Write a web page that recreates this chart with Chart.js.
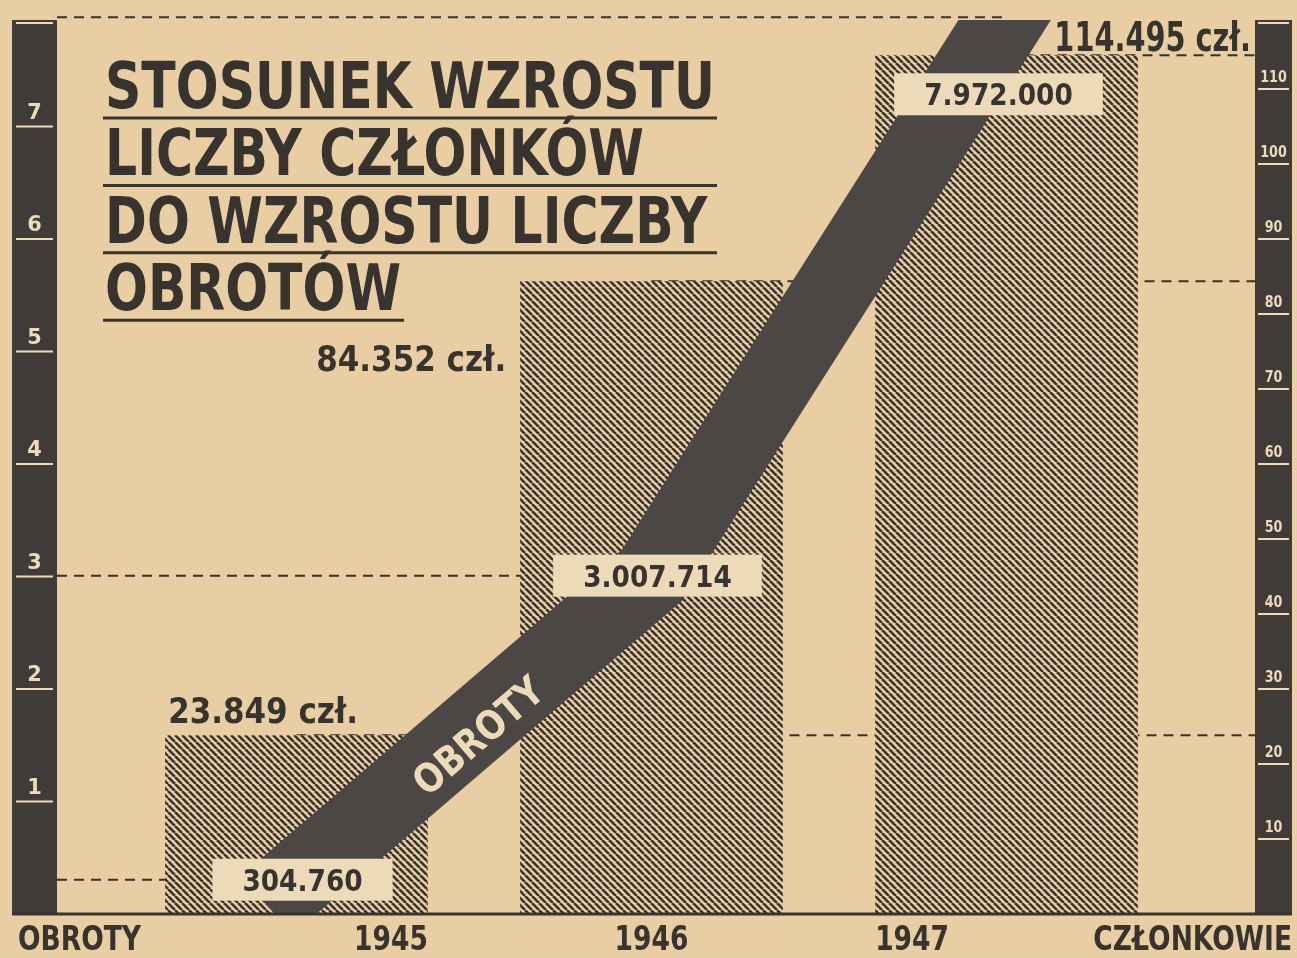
<!DOCTYPE html>
<html>
<head>
<meta charset="utf-8">
<title>Stosunek wzrostu liczby członków do wzrostu liczby obrotów</title>
<script src="https://cdn.jsdelivr.net/npm/chart.js@4"></script>
<style>
  html, body { margin: 0; padding: 0; background: #e8cea2; }
  canvas { display: block; }
</style>
</head>
<body>
<canvas id="chart" width="1297" height="958"></canvas>
<script>
const years = ['1945', '1946', '1947'];
const members = [23849, 84352, 114495];
const memberLabels = ['23.849 czł.', '84.352 czł.', '114.495 czł.'];
const turnover = [304760, 3007714, 7972000];
const turnoverLabels = ['304.760', '3.007.714', '7.972.000'];
const turnoverTicks = [1, 2, 3, 4, 5, 6, 7];      // millions
const memberTicks = [10, 20, 30, 40, 50, 60, 70, 80, 90, 100, 110]; // thousands
const titleLines = ['STOSUNEK WZROSTU', 'LICZBY CZŁONKÓW', 'DO WZROSTU LICZBY', 'OBROTÓW'];

const ink = '#37332f';
const paper = '#e8cea2';
const paperLight = '#eddab8';
const bandColor = '#4a4744';
const stripColor = '#3e3b38';
const FONT = '"DejaVu Sans", "Liberation Sans", sans-serif';

// side strips (decoration outside the plot area)
const STRIP_L = [12, 57];
const STRIP_R = [1255, 1292];

function makeHatch(ctx) {
    const s = 7;
    const c = document.createElement('canvas');
    c.width = s;
    c.height = s;
    const g = c.getContext('2d');
    g.fillStyle = paper;
    g.fillRect(0, 0, s, s);
    g.strokeStyle = ink;
    g.lineWidth = 2.6;
    g.beginPath();
    for (let i = -s; i <= s; i += s) {
        g.moveTo(i, 0);
        g.lineTo(i + s, s);
    }
    g.stroke();
    return ctx.createPattern(c, 'repeat');
}

// draws text squeezed horizontally by sx
function squeezeText(ctx, text, x, y, font, align, sx, color) {
    ctx.save();
    ctx.font = font;
    ctx.fillStyle = color;
    ctx.textBaseline = 'alphabetic';
    ctx.textAlign = 'left';
    const w = ctx.measureText(text).width * sx;
    let left = x;
    if (align === 'center') left = x - w / 2;
    else if (align === 'right') left = x - w;
    ctx.translate(left, y);
    ctx.scale(sx, 1);
    ctx.fillText(text, 0, 0);
    ctx.restore();
    return w;
}

function hLine(ctx, x1, x2, y) {
    ctx.beginPath();
    ctx.moveTo(x1, y);
    ctx.lineTo(x2, y);
    ctx.stroke();
}

const artPlugin = {
    id: 'art',
    beforeDraw(chart) {
        const ctx = chart.ctx;
        ctx.save();
        ctx.fillStyle = paper;
        ctx.fillRect(0, 0, chart.width, chart.height);
        ctx.restore();
    },
    beforeDatasetsDraw(chart) {
        const { ctx, scales: { y, y1 } } = chart;
        const bars = chart.getDatasetMeta(0).data;
        ctx.save();
        ctx.strokeStyle = ink;
        ctx.lineWidth = 2;
        ctx.setLineDash([10, 7]);
        turnover.forEach((v, i) => {
            hLine(ctx, STRIP_L[1], bars[i].x, y.getPixelForValue(v));
        });
        members.forEach((v, i) => {
            hLine(ctx, bars[i].x, STRIP_R[0], y1.getPixelForValue(v));
        });
        ctx.restore();
    },
    afterDatasetsDraw(chart) {
        const { ctx, chartArea, scales: { y, y1 } } = chart;
        const bars = chart.getDatasetMeta(0).data;
        const pts = chart.getDatasetMeta(1).data;

        // word on the ribbon
        const a = pts[0], b = pts[1];
        const ang = Math.atan2(b.y - a.y, b.x - a.x);
        ctx.save();
        ctx.translate((a.x + b.x) / 2 + 4, (a.y + b.y) / 2 + 8);
        ctx.rotate(ang);
        squeezeText(ctx, 'OBROTY', 0, 14, `bold 40px ${FONT}`, 'center', 0.85, paperLight);
        ctx.restore();

        // turnover value boxes
        turnoverLabels.forEach((t, i) => {
            const p = pts[i], bar = bars[i];
            let cx = p.x + 6, cy = p.y;
            if (cy < bar.y + 40) { cy = bar.y + 39; cx = p.x - 8; }
            ctx.save();
            ctx.font = `bold 30px ${FONT}`;
            const w = ctx.measureText(t).width * 0.88 + 60;
            ctx.fillStyle = paperLight;
            ctx.fillRect(cx - w / 2, cy - 21, w, 42);
            ctx.restore();
            squeezeText(ctx, t, cx, cy + 11, `bold 30px ${FONT}`, 'center', 0.88, ink);
        });

        // member labels
        memberLabels.forEach((t, i) => {
            const bar = bars[i];
            const left = bar.x - bar.width / 2;
            const f = `bold 36px ${FONT}`;
            if (i === 0) squeezeText(ctx, t, left + 3, bar.y - 12, f, 'left', 0.86, ink);
            else if (i === 1) squeezeText(ctx, t, left - 14, bar.y + 90, f, 'right', 0.86, ink);
            else squeezeText(ctx, t, STRIP_R[0] - 4, bar.y - 4, `bold 40px ${FONT}`, 'right', 0.72, ink);
        });

        // side strips with scales
        const top = chartArea.top + 6, bottom = chartArea.bottom;
        ctx.save();
        ctx.fillStyle = stripColor;
        ctx.fillRect(STRIP_L[0], top, STRIP_L[1] - STRIP_L[0], bottom - top);
        ctx.fillRect(STRIP_R[0], top, STRIP_R[1] - STRIP_R[0], bottom - top);
        ctx.strokeStyle = paperLight;
        ctx.lineWidth = 2;
        hLine(ctx, STRIP_L[0] + 4, STRIP_L[1] - 4, top + 3);
        hLine(ctx, STRIP_R[0] + 3, STRIP_R[1] - 3, top + 3);
        turnoverTicks.forEach(v => {
            const py = y.getPixelForValue(v * 1e6);
            hLine(ctx, STRIP_L[0] + 4, STRIP_L[1] - 4, py);
            squeezeText(ctx, String(v), (STRIP_L[0] + STRIP_L[1]) / 2, py - 8, `bold 22px ${FONT}`, 'center', 0.95, paperLight);
        });
        memberTicks.forEach(v => {
            const py = y1.getPixelForValue(v * 1000);
            hLine(ctx, STRIP_R[0] + 3, STRIP_R[1] - 3, py);
            squeezeText(ctx, String(v), (STRIP_R[0] + STRIP_R[1]) / 2, py - 7, `bold 15px ${FONT}`, 'center', 0.85, paperLight);
        });
        ctx.restore();

        // baseline
        ctx.save();
        ctx.strokeStyle = ink;
        ctx.lineWidth = 3;
        hLine(ctx, STRIP_L[0], STRIP_R[1], bottom);
        ctx.restore();

        // bottom labels
        const bf = `bold 34px ${FONT}`;
        squeezeText(ctx, 'OBROTY', 18, 950, bf, 'left', 0.78, ink);
        squeezeText(ctx, 'CZŁONKOWIE', STRIP_R[1], 950, bf, 'right', 0.78, ink);
        years.forEach((t, i) => {
            const bar = bars[i];
            if (i === 0) squeezeText(ctx, t, bar.x + bar.width / 2, 950, bf, 'right', 0.78, ink);
            else if (i === 1) squeezeText(ctx, t, bar.x, 950, bf, 'center', 0.78, ink);
            else squeezeText(ctx, t, bar.x - bar.width / 2, 950, bf, 'left', 0.78, ink);
        });

        // title block
        const tf = `bold 64px ${FONT}`;
        ctx.save();
        ctx.font = tf;
        const fullW = 610;
        const sx = fullW / ctx.measureText(titleLines[0]).width;
        ctx.restore();
        ctx.save();
        ctx.strokeStyle = ink;
        ctx.lineWidth = 3;
        titleLines.forEach((t, i) => {
            const base = 108 + i * 67.4;
            const w = squeezeText(ctx, t, 105, base, tf, 'left', sx, ink);
            hLine(ctx, 103, i < 3 ? 103 + fullW + 4 : 105 + w + 3, base + 10);
        });
        ctx.restore();
    }
};

const ctx = document.getElementById('chart').getContext('2d');
const hatch = makeHatch(ctx);

new Chart(ctx, {
    type: 'bar',
    data: {
        labels: years,
        datasets: [
            {
                type: 'bar',
                label: 'Członkowie',
                data: members,
                yAxisID: 'y1',
                backgroundColor: hatch,
                borderWidth: 0,
                barPercentage: 0.74,
                categoryPercentage: 1,
                order: 1
            },
            {
                type: 'line',
                label: 'Obroty',
                data: turnover,
                yAxisID: 'y',
                borderColor: bandColor,
                borderWidth: 78,
                borderCapStyle: 'square',
                borderJoinStyle: 'miter',
                pointRadius: 0,
                tension: 0,
                fill: false,
                clip: { left: false, right: false, top: -6, bottom: 0 },
                order: 0
            }
        ]
    },
    options: {
        responsive: false,
        animation: false,
        layout: { padding: { left: 119, right: 113, top: 14, bottom: 44 } },
        scales: {
            x: { display: false, offset: true },
            y: { display: false, min: 0, max: 8000000 },
            y1: { display: false, position: 'right', min: 0, max: 120000 }
        },
        plugins: {
            legend: { display: false },
            tooltip: { enabled: false },
            title: { display: false }
        }
    },
    plugins: [artPlugin]
});
</script>
</body>
</html>
